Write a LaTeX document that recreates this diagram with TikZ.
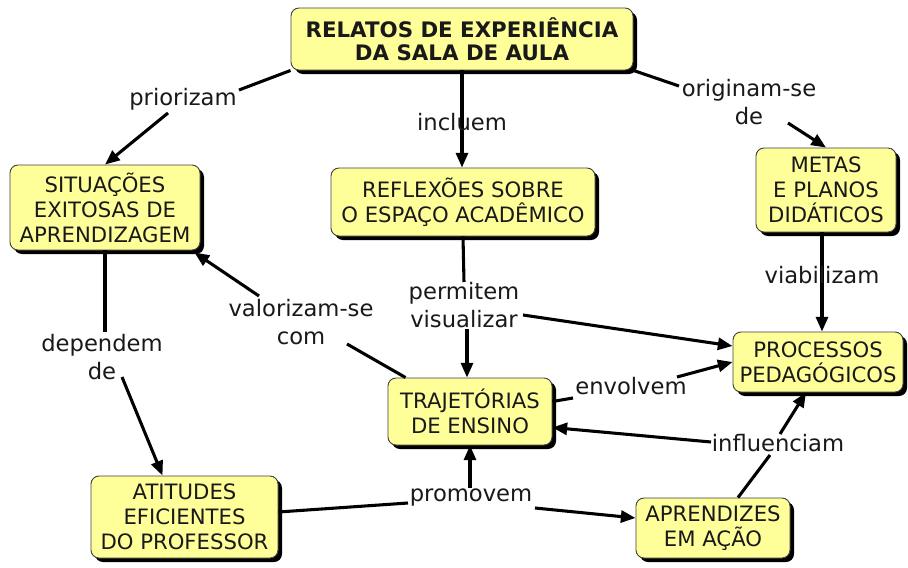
\documentclass[tikz,border=0pt]{standalone}
\usepackage{fontspec}
\setmainfont{DejaVu Sans}
\usetikzlibrary{arrows.meta,shadows,calc}
\definecolor{cfill}{RGB}{255,255,153}
\definecolor{ctext}{RGB}{25,25,25}
\newcommand\cfont{\fontsize{15.9pt}{18.8pt}\selectfont}
\newcommand\tfont{\fontsize{16pt}{17.6pt}\selectfont\bfseries}
\newcommand\lfont{\fontsize{17pt}{20.5pt}\selectfont}
\tikzset{
  concept/.style={draw=black!75, line width=0.7pt, rounded corners=6pt, fill=cfill,
    align=center, font=\cfont, text=ctext, inner sep=0pt,
    drop shadow={shadow xshift=3pt, shadow yshift=-3pt, opacity=1, fill=black}},
  boxsize/.style 2 args={minimum width=#1*0.75pt, minimum height=#2*0.75pt},
  lbl/.style={font=\lfont, align=center, inner sep=0pt, text=ctext},
  link/.style={line width=2.3pt, black},
  arr/.style={link, -{Triangle[length=11pt,width=9pt]}},
}
\begin{document}
\begin{tikzpicture}[x=0.75pt,y=-0.75pt]
\fill[white] (0,0) rectangle (908,568);
\useasboundingbox (0,0) rectangle (908,568);

% concepts
\node[concept, boxsize={342}{62}, font=\tfont] (title) at (462,39) {RELATOS DE EXPERIÊNCIA\\DA SALA DE AULA};
\node[concept, boxsize={190}{85}] (sit) at (105,207.5) {SITUAÇÕES\\EXITOSAS DE\\APRENDIZAGEM};
\node[concept, boxsize={264}{68}] (refl) at (463,202) {REFLEXÕES SOBRE\\O ESPAÇO ACADÊMICO};
\node[concept, boxsize={140}{84}] (metas) at (826,190) {METAS\\E PLANOS\\DIDÁTICOS};
\node[concept, boxsize={170}{60}] (proc) at (818,362) {PROCESSOS\\PEDAGÓGICOS};
\node[concept, boxsize={164}{67}] (traj) at (470,411.5) {TRAJETÓRIAS\\DE ENSINO};
\node[concept, boxsize={187}{82}] (atit) at (184.5,517) {ATITUDES\\EFICIENTES\\DO PROFESSOR};
\node[concept, boxsize={154}{60}] (apr) at (713,528) {APRENDIZES\\EM AÇÃO};

% connectors drawn behind labels
\draw[arr] (title.south) -- (title.south |- refl.north);
\draw[arr] (metas.south -| 822,0) -- (proc.north -| 822,0);

% linking phrases
\node[lbl] (pri) at (183,99) {priorizam};
\node[lbl] (inc) at (462,122) {incluem};
\node[lbl] (orig) at (749,102) {originam-se\\de};
\node[lbl] (perm) at (464,305) {permitem\\visualizar};
\node[lbl] (viab) at (822,275) {viabilizam};
\node[lbl] (dep) at (102,357) {dependem\\de};
\node[lbl] (valo) at (301,322) {valorizam-se\\com};
\node[lbl] (env) at (631,386) {envolvem};
\node[lbl] (infl) at (778,443) {influenciam};
\node[lbl] (prom) at (471,498) {promovem};

% connectors
\draw[link] (title.south west) -- ($(pri.center)+(56,-9)$);
\draw[arr] ($(pri.center)+(-15,14)$) -- (sit.north);

\draw[link] (title.south east) -- ($(orig.center)+(-70,-16)$);
\draw[arr] ($(orig.center)+(39,21)$) -- (metas.north);

\draw[link] (refl.south) -- ($(perm.center)+(0,-23)$);
\draw[arr] ($(perm.center)+(3,24)$) -- ($(traj.north)+(-3,0)$);
\draw[arr] ($(perm.center)+(59,10)$) -- ($(proc.west)+(0,-16)$);

\draw[link] (sit.south) -- ($(dep.center)+(3,-25)$);
\draw[arr] ($(dep.center)+(20,20)$) -- ($(atit.north)+(-22,0)$);

\draw[link] ($(traj.north west)+(18,0)$) -- ($(valo.center)+(46,22)$);
\draw[arr] ($(valo.center)+(-42,-26)$) -- ($(sit.south east)+(-6,2)$);

\draw[link] ($(traj.east)+(0,-10)$) -- ($(env.center)+(-58,12)$);
\draw[arr] ($(env.center)+(46,-9)$) -- (proc.west);

\draw[link] ($(apr.north)+(25,0)$) -- ($(infl.center)+(-8,12)$);
\draw[arr] ($(infl.center)+(2,-9)$) -- ($(proc.south)+(-12,0)$);
\draw[arr] ($(infl.center)+(-67,-1)$) -- ($(traj.east)+(0,16)$);

\draw[link] ($(atit.east)+(0,-5)$) -- ($(prom.center)+(-63,5)$);
\draw[arr] ($(prom.center)+(-1,-10)$) -- (traj.south);
\draw[arr] ($(prom.center)+(64,10)$) -- ($(apr.west)+(0,-10)$);
\end{tikzpicture}
\end{document}
